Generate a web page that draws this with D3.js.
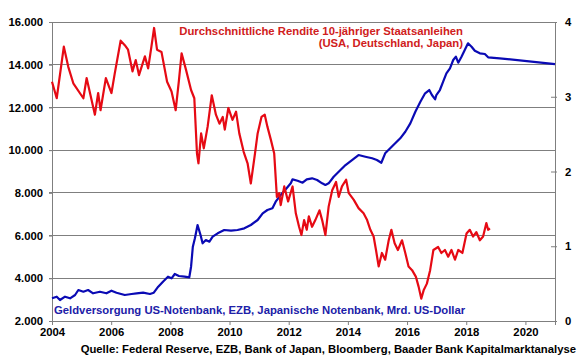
<!DOCTYPE html>
<html><head><meta charset="utf-8">
<script src="https://cdn.jsdelivr.net/npm/d3@7"></script>
<style>html,body{margin:0;padding:0;background:#fff;}svg{display:block;font-family:"Liberation Sans",Arial,sans-serif;font-weight:bold;}</style>
</head><body>
<script>
// ---- data ----
const xTicks = [2004, 2006, 2008, 2010, 2012, 2014, 2016, 2018, 2020];
const leftTicks = [2000, 4000, 6000, 8000, 10000, 12000, 14000, 16000];
const rightTicks = [0, 1, 2, 3, 4];
const titleRed = ["Durchschnittliche Rendite 10-jähriger Staatsanleihen", "(USA, Deutschland, Japan)"];
const titleBlue = "Geldversorgung US-Notenbank, EZB, Japanische Notenbank, Mrd. US-Dollar";
const sourceText = "Quelle: Federal Reserve, EZB, Bank of Japan, Bloomberg, Baader Bank Kapitalmarktanalyse";

// Average 10y government bond yield (%), right axis
const redSeries = [
[2004.00,3.20],[2004.16,2.98],[2004.40,3.67],[2004.55,3.40],[2004.72,3.18],[2005.06,2.98],[2005.17,3.25],
[2005.45,2.76],[2005.56,3.05],[2005.64,2.82],[2005.82,3.25],[2006.01,3.05],[2006.12,3.31],[2006.32,3.75],
[2006.46,3.69],[2006.57,3.63],[2006.72,3.34],[2006.83,3.49],[2006.94,3.29],[2007.14,3.54],[2007.25,3.38],
[2007.36,3.67],[2007.45,3.92],[2007.55,3.63],[2007.70,3.60],[2007.89,3.20],[2008.04,3.07],[2008.18,2.82],
[2008.29,3.22],[2008.38,3.58],[2008.53,3.36],[2008.70,3.09],[2008.81,2.98],[2008.90,2.24],[2008.95,2.11],
[2009.04,2.51],[2009.13,2.31],[2009.26,2.60],[2009.40,3.02],[2009.54,2.76],[2009.66,2.64],[2009.77,2.73],
[2009.84,2.56],[2009.96,2.85],[2010.10,2.69],[2010.22,2.80],[2010.33,2.51],[2010.48,2.26],[2010.61,2.11],
[2010.72,1.84],[2010.86,2.24],[2010.95,2.51],[2011.08,2.73],[2011.19,2.76],[2011.28,2.60],[2011.40,2.42],
[2011.51,2.24],[2011.60,1.66],[2011.68,1.71],[2011.73,1.55],[2011.85,1.80],[2011.98,1.60],[2012.13,1.80],
[2012.24,1.44],[2012.35,1.26],[2012.43,1.15],[2012.52,1.35],[2012.61,1.22],[2012.68,1.40],[2012.79,1.26],
[2012.90,1.35],[2013.04,1.48],[2013.13,1.35],[2013.24,1.15],[2013.35,1.53],[2013.47,1.75],[2013.60,1.86],
[2013.69,1.66],[2013.80,1.80],[2013.94,1.89],[2014.03,1.71],[2014.20,1.62],[2014.36,1.51],[2014.53,1.44],
[2014.65,1.35],[2014.76,1.22],[2014.87,1.13],[2014.95,0.95],[2015.04,0.73],[2015.15,0.91],[2015.26,0.82],
[2015.38,1.08],[2015.47,1.22],[2015.58,1.04],[2015.69,0.95],[2015.83,1.08],[2015.94,0.91],[2016.05,0.73],
[2016.17,0.68],[2016.30,0.59],[2016.39,0.46],[2016.48,0.30],[2016.56,0.41],[2016.67,0.50],[2016.78,0.68],
[2016.89,0.95],[2017.05,0.99],[2017.16,0.91],[2017.28,0.95],[2017.39,0.86],[2017.50,0.95],[2017.62,0.82],
[2017.73,0.95],[2017.87,0.91],[2018.01,1.17],[2018.12,1.22],[2018.23,1.13],[2018.34,1.19],[2018.46,1.08],
[2018.57,1.13],[2018.68,1.31],[2018.74,1.22],[2018.80,1.24]
];

// Central bank money supply (bn USD), left axis
const blueSeries = [
[2004.00,3063],[2004.16,3138],[2004.27,2983],[2004.44,3138],[2004.61,3063],[2004.78,3217],[2004.89,3451],
[2005.06,3372],[2005.22,3451],[2005.39,3297],[2005.62,3372],[2005.84,3297],[2006.01,3419],[2006.18,3325],
[2006.46,3217],[2006.69,3264],[2006.86,3297],[2007.08,3325],[2007.31,3264],[2007.44,3325],[2007.59,3606],
[2007.75,3840],[2007.92,4074],[2008.04,3999],[2008.15,4201],[2008.29,4107],[2008.48,4074],[2008.64,4046],
[2008.70,4542],[2008.76,5479],[2008.83,5872],[2008.92,6495],[2009.02,6027],[2009.09,5638],[2009.20,5792],
[2009.32,5713],[2009.43,5947],[2009.60,6106],[2009.82,6261],[2010.05,6228],[2010.27,6261],[2010.50,6340],
[2010.72,6495],[2010.95,6729],[2011.12,7042],[2011.28,7197],[2011.45,7277],[2011.56,7586],[2011.73,7899],
[2011.90,8166],[2012.07,8447],[2012.13,8634],[2012.30,8569],[2012.47,8475],[2012.61,8634],[2012.79,8681],
[2012.96,8602],[2013.13,8447],[2013.24,8368],[2013.35,8447],[2013.52,8756],[2013.69,8990],[2013.92,9304],
[2014.14,9538],[2014.36,9772],[2014.59,9692],[2014.82,9618],[2014.98,9538],[2015.13,9411],[2015.26,9852],
[2015.43,10086],[2015.60,10320],[2015.77,10554],[2015.94,10863],[2016.11,11256],[2016.28,11800],
[2016.45,12268],[2016.61,12661],[2016.75,12815],[2016.84,12581],[2016.95,12380],[2016.99,12581],
[2017.11,12815],[2017.22,13204],[2017.33,13597],[2017.45,13831],[2017.56,14220],[2017.65,14375],
[2017.73,14094],[2017.84,14375],[2017.95,14688],[2018.06,15002],[2018.18,14843],[2018.29,14655],
[2018.46,14534],[2018.63,14500],[2018.74,14346],[2019.13,14300],[2021.00,14030]
];

// ---- layout ----
const W = 580, H = 359;
const m = {left: 52, right: 25, top: 22, bottom: 38};
const x = d3.scaleLinear().domain([2004, 2021]).range([m.left, W - m.right]);
const yL = d3.scaleLinear().domain([2000, 16000]).range([H - m.bottom, m.top]);
const yR = d3.scaleLinear().domain([0, 4]).range([H - m.bottom, m.top]);
const tf = "Liberation Sans, Arial, sans-serif";

const svg = d3.select("body").append("svg").attr("width", W).attr("height", H);

// gridlines
svg.append("g").selectAll("line").data(leftTicks.slice(1)).join("line")
  .attr("x1", m.left - 3).attr("x2", W - m.right)
  .attr("y1", d => yL(d)).attr("y2", d => yL(d))
  .attr("stroke", "#7f7f7f").attr("stroke-width", 1).attr("shape-rendering", "crispEdges");

// left axis
const gl = svg.append("g").attr("transform", `translate(${m.left},0)`)
  .call(d3.axisLeft(yL).tickValues(leftTicks).tickSize(3).tickPadding(6)
    .tickFormat(d => d3.format(",")(d).replace(/,/g, ".")));
gl.select(".domain").attr("stroke", "#7f7f7f");
gl.selectAll(".tick line").attr("stroke", "#7f7f7f");
gl.selectAll("text").attr("font-size", 11.3).attr("font-weight", "bold").attr("fill", "#000").attr("font-family", tf);

// right axis
const gr = svg.append("g").attr("transform", `translate(${W - m.right},0)`)
  .call(d3.axisRight(yR).tickValues(rightTicks).tickSize(2).tickPadding(8).tickFormat(d3.format("d")));
gr.select(".domain").attr("stroke", "#7f7f7f");
gr.selectAll(".tick line").attr("stroke", "#7f7f7f").attr("x1", -4);
gr.selectAll("text").attr("font-size", 11.3).attr("font-weight", "bold").attr("fill", "#000").attr("font-family", tf);

// bottom axis
const gb = svg.append("g").attr("transform", `translate(0,${H - m.bottom})`)
  .call(d3.axisBottom(x).tickValues(xTicks).tickSize(4).tickPadding(3).tickFormat(d3.format("d")));
gb.select(".domain").attr("stroke", "#7f7f7f");
gb.selectAll(".tick line").attr("stroke", "#7f7f7f");
gb.selectAll("text").attr("font-size", 11.3).attr("font-weight", "bold").attr("fill", "#000").attr("font-family", tf);

// lines
const lineL = d3.line().x(d => x(d[0])).y(d => yL(d[1]));
const lineR = d3.line().x(d => x(d[0])).y(d => yR(d[1]));
svg.append("path").datum(blueSeries).attr("d", lineL)
  .attr("fill", "none").attr("stroke", "#0a0ab4").attr("stroke-width", 2.2).attr("stroke-linejoin", "round");
svg.append("path").datum(redSeries).attr("d", lineR)
  .attr("fill", "none").attr("stroke", "#e60a14").attr("stroke-width", 2.2).attr("stroke-linejoin", "round");

// texts
svg.append("text").attr("x", 463).attr("y", 35).attr("text-anchor", "end")
  .attr("font-size", 11.3).attr("font-family", tf).attr("font-weight", "bold").attr("fill", "#d02020").text(titleRed[0]);
svg.append("text").attr("x", 463).attr("y", 47).attr("text-anchor", "end")
  .attr("font-size", 11.3).attr("font-family", tf).attr("font-weight", "bold").attr("fill", "#d02020").text(titleRed[1]);
svg.append("text").attr("x", 54).attr("y", 314)
  .attr("font-size", 11.3).attr("font-family", tf).attr("font-weight", "bold").attr("fill", "#2020a8").text(titleBlue);
svg.append("text").attr("x", 576).attr("y", 353).attr("text-anchor", "end")
  .attr("font-size", 11.3).attr("font-family", tf).attr("font-weight", "bold").attr("fill", "#000").text(sourceText);
</script>
</body></html>
